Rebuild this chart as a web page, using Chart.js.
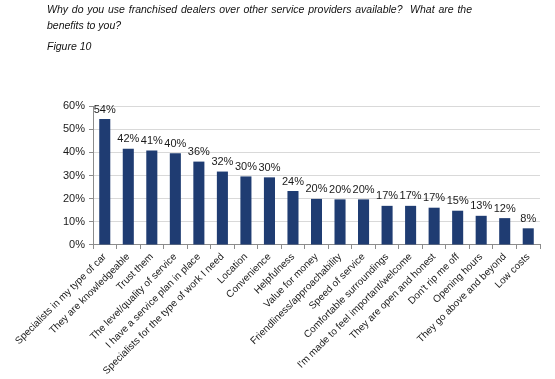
<!DOCTYPE html>
<html>
<head>
<meta charset="utf-8">
<script src="https://cdn.jsdelivr.net/npm/chart.js@4/dist/chart.umd.min.js"></script>
<style>
  html, body { margin: 0; padding: 0; background: #fff; }
  #wrap { position: relative; width: 555px; height: 379px; overflow: hidden; }
  canvas { position: absolute; left: 0; top: 0; }
  .t { position: absolute; font-family: "Liberation Sans", Arial, sans-serif; font-style: italic; font-size: 10.5px; color: #111; white-space: nowrap; }
  #t1 { left: 47px; top: 3px; width: 425px; text-align: justify; text-align-last: justify; }
  #t2 { left: 47px; top: 19px; }
  #t3 { left: 47px; top: 40px; }
</style>
</head>
<body>
<div id="wrap">
  <canvas id="c" width="555" height="379"></canvas>
  <div class="t" id="t1">Why do you use franchised dealers over other service providers available?&nbsp; What are the</div>
  <div class="t" id="t2">benefits to you?</div>
  <div class="t" id="t3">Figure 10</div>
</div>
<script>
const categories = [
  "Specialists in my type of car",
  "They are knowledgeable",
  "Trust them",
  "The level/quality of service",
  "I have a service plan in place",
  "Specialists for the type of work I need",
  "Location",
  "Convenience",
  "Helpfulness",
  "Value for money",
  "Friendliness/approachability",
  "Speed of service",
  "Comfortable surroundings",
  "I'm made to feel important/welcome",
  "They are open and honest",
  "Don't rip me off",
  "Opening hours",
  "They go above and beyond",
  "Low costs"
];
const values = [54.4, 41.6, 40.8, 39.6, 36.0, 31.7, 29.6, 29.2, 23.3, 19.9, 19.7, 19.7, 16.9, 16.9, 16.1, 14.8, 12.6, 11.6, 7.2];
const valueLabels = ["54%", "42%", "41%", "40%", "36%", "32%", "30%", "30%", "24%", "20%", "20%", "20%", "17%", "17%", "17%", "15%", "13%", "12%", "8%"];
const yTicks = [0, 10, 20, 30, 40, 50, 60];

const labelPlugin = {
  id: 'valueLabels',
  afterDatasetsDraw(chart) {
    const ctx = chart.ctx;
    const meta = chart.getDatasetMeta(0);
    ctx.save();
    ctx.font = '11px "Liberation Sans", Arial, sans-serif';
    ctx.fillStyle = '#1a1a1a';
    ctx.textAlign = 'center';
    ctx.textBaseline = 'bottom';
    meta.data.forEach((bar, i) => {
      ctx.fillText(valueLabels[i], bar.x, bar.y - 4);
    });
    ctx.restore();
  }
};

new Chart(document.getElementById('c'), {
  type: 'bar',
  data: {
    labels: categories,
    datasets: [{
      data: values,
      backgroundColor: '#1f3c72',
      borderWidth: 0,
      barPercentage: 0.94,
      categoryPercentage: 0.5
    }]
  },
  options: {
    responsive: false,
    animation: false,
    devicePixelRatio: 1,
    layout: { padding: { top: 106, right: 15, left: 0, bottom: 0 } },
    plugins: { legend: { display: false }, tooltip: { enabled: false }, title: { display: false } },
    scales: {
      y: {
        min: yTicks[0],
        max: yTicks[yTicks.length - 1],
        afterBuildTicks(axis) { axis.ticks = yTicks.map(v => ({ value: v })); },
        afterFit(axis) { axis.width = 93; },
        ticks: {
          callback: v => v + '%',
          color: '#1a1a1a',
          font: { family: '"Liberation Sans", Arial, sans-serif', size: 11 },
          padding: 4
        },
        grid: { color: '#d9d9d9', tickColor: '#8c8c8c', tickLength: 4, lineWidth: 1 },
        border: { color: '#8c8c8c', width: 1 }
      },
      x: {
        ticks: {
          autoSkip: false,
          maxRotation: 45,
          minRotation: 45,
          color: '#1a1a1a',
          font: { family: '"Liberation Sans", Arial, sans-serif', size: 10 },
          padding: 2
        },
        grid: { offset: true, drawOnChartArea: false, tickColor: '#8c8c8c', tickLength: 4 },
        border: { color: '#8c8c8c', width: 1 }
      }
    }
  },
  plugins: [labelPlugin]
});
</script>
</body>
</html>
